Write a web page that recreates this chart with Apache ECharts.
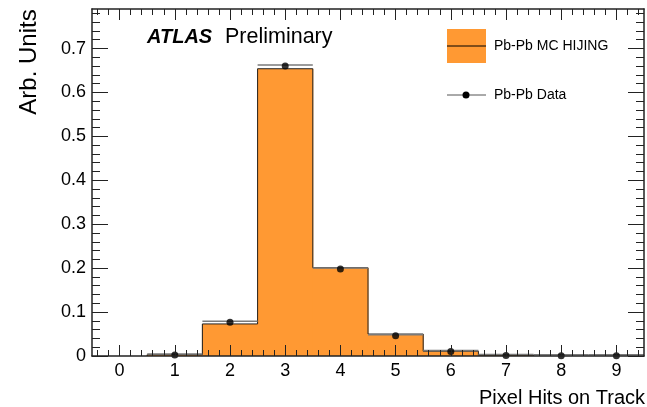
<!DOCTYPE html>
<html>
<head>
<meta charset="utf-8">
<script src="https://cdn.jsdelivr.net/npm/echarts@6/dist/echarts.min.js"></script>
<style>html,body{margin:0;padding:0;background:#fff;}#c{width:647px;height:407px;}</style>
</head>
<body>
<div id="c"></div>
<script>
// ---- data ----
var bins = [0, 1, 2, 3, 4, 5, 6, 7, 8, 9];
var mcValues = [0, 0.003, 0.073, 0.654, 0.201, 0.050, 0.011, 0.002, 0, 0];
var dataValues = [null, 0.002, 0.077, 0.660, 0.198, 0.046, 0.010, 0.001, 0.0003, 0.0003];
var xTickLabels = [0, 1, 2, 3, 4, 5, 6, 7, 8, 9];
var yTickLabels = [0, 0.1, 0.2, 0.3, 0.4, 0.5, 0.6, 0.7];
var xMinorStep = 0.2, yMinorStep = 0.02;
var xMin = -0.5, xMax = 9.5, yMin = 0, yMax = 0.79;

function minorTicks(lo, hi, step, majors) {
  var out = [];
  var start = Math.ceil(lo / step - 1e-9);
  for (var i = start; i * step <= hi + 1e-9; i++) {
    var v = +(i * step).toFixed(6);
    var isMajor = majors.some(function (m) { return Math.abs(m - v) < 1e-9; });
    if (!isMajor && v > lo + 1e-9 && v < hi - 1e-9) out.push(v);
  }
  return out;
}
var xMinor = minorTicks(xMin, xMax, xMinorStep, xTickLabels);
var yMinor = minorTicks(yMin, yMax, yMinorStep, yTickLabels);

var FONT = 'Liberation Sans, Arial, Helvetica, sans-serif';
var ORANGE = '#ff9933';
var FRAME = '#222';

function xAxisDef(pos, ticks, len, labels, line) {
  return {
    type: 'value', min: xMin, max: xMax, position: pos, z: 10,
    axisLine: { show: line, onZero: false, lineStyle: { color: FRAME, width: 1.5 } },
    axisTick: { show: true, inside: true, length: len, customValues: ticks, lineStyle: { color: FRAME, width: 1 } },
    axisLabel: labels ? { show: true, customValues: xTickLabels, margin: 6, color: '#000', fontSize: 18, fontFamily: FONT } : { show: false },
    splitLine: { show: false }
  };
}
function yAxisDef(pos, ticks, len, labels, line) {
  return {
    type: 'value', min: yMin, max: yMax, position: pos, z: 10,
    axisLine: { show: line, onZero: false, lineStyle: { color: FRAME, width: 1.5 } },
    axisTick: { show: true, inside: true, length: len, customValues: ticks, lineStyle: { color: FRAME, width: 1 } },
    axisLabel: labels ? { show: true, customValues: yTickLabels, margin: 6, color: '#000', fontSize: 18, fontFamily: FONT } : { show: false },
    splitLine: { show: false }
  };
}

var histData = bins.map(function (b, i) { return [b, mcValues[i], i]; });
var dataPts = [];
bins.forEach(function (b, i) { if (dataValues[i] !== null) dataPts.push([b, dataValues[i]]); });

var option = {
  animation: false,
  backgroundColor: '#fff',
  grid: { left: 92, right: 3, top: 9, bottom: 51, containLabel: false },
  xAxis: [
    xAxisDef('bottom', xTickLabels, 11, true, true),
    xAxisDef('bottom', xMinor, 6, false, false),
    xAxisDef('top', xTickLabels, 11, false, true),
    xAxisDef('top', xMinor, 6, false, false)
  ],
  yAxis: [
    yAxisDef('left', yTickLabels, 16, true, true),
    yAxisDef('left', yMinor, 8, false, false),
    yAxisDef('right', yTickLabels, 16, false, true),
    yAxisDef('right', yMinor, 8, false, false)
  ],
  series: [
    { // MC fill
      type: 'custom', xAxisIndex: 0, yAxisIndex: 0, z: 2,
      data: histData,
      renderItem: function (params, api) {
        var x = api.value(0), v = api.value(1);
        if (!v) return null;
        var p0 = api.coord([x - 0.5, 0]);
        var p1 = api.coord([x + 0.5, v]);
        return { type: 'rect', shape: { x: p0[0] - 0.5, y: p1[1], width: p1[0] - p0[0] + 1, height: p0[1] - p1[1] }, style: { fill: ORANGE } };
      }
    },
    { // MC outline (step)
      type: 'custom', xAxisIndex: 0, yAxisIndex: 0, z: 3,
      data: histData,
      renderItem: function (params, api) {
        var x = api.value(0), v = api.value(1), i = api.value(2);
        var prev = i > 0 ? mcValues[i - 1] : 0;
        var children = [];
        var a = api.coord([x - 0.5, v]), b = api.coord([x + 0.5, v]);
        if (v > 0) children.push({ type: 'line', shape: { x1: a[0], y1: a[1], x2: b[0], y2: b[1] }, style: { stroke: '#222', lineWidth: 1 } });
        if (prev !== v) {
          var c = api.coord([x - 0.5, prev]);
          children.push({ type: 'line', shape: { x1: a[0], y1: a[1], x2: c[0], y2: c[1] }, style: { stroke: '#222', lineWidth: 1 } });
        }
        if (i === mcValues.length - 1 && v > 0) {
          var d = api.coord([x + 0.5, 0]);
          children.push({ type: 'line', shape: { x1: b[0], y1: b[1], x2: d[0], y2: d[1] }, style: { stroke: '#222', lineWidth: 1 } });
        }
        return { type: 'group', children: children };
      }
    },
    { // data x-error bars
      type: 'custom', xAxisIndex: 0, yAxisIndex: 0, z: 4,
      data: dataPts,
      renderItem: function (params, api) {
        var x = api.value(0), v = api.value(1);
        var a = api.coord([x - 0.5, v]), b = api.coord([x + 0.5, v]);
        return { type: 'line', shape: { x1: a[0], y1: a[1] - 1, x2: b[0], y2: b[1] - 1 }, style: { stroke: '#7a7a7a', lineWidth: 1.5 } };
      }
    },
    { // data points
      type: 'scatter', xAxisIndex: 0, yAxisIndex: 0, z: 5,
      symbol: 'circle', symbolSize: 7,
      itemStyle: { color: '#000' },
      data: dataPts
    }
  ],
  graphic: [
    { type: 'text', x: 29, y: 62, rotation: Math.PI / 2,
      style: { text: 'Arb. Units', font: '24px ' + FONT, fill: '#000', textAlign: 'center', textVerticalAlign: 'middle' } },
    { type: 'text', x: 645, y: 398,
      style: { text: 'Pixel Hits on Track', font: '20px ' + FONT, fill: '#000', textAlign: 'right', textVerticalAlign: 'middle' } },
    { type: 'text', x: 147, y: 37,
      style: { text: 'ATLAS', font: 'italic bold 20px ' + FONT, fill: '#000', textAlign: 'left', textVerticalAlign: 'middle' } },
    { type: 'text', x: 225, y: 37,
      style: { text: 'Preliminary', font: '21.5px ' + FONT, fill: '#000', textAlign: 'left', textVerticalAlign: 'middle' } },
    { type: 'rect', shape: { x: 447, y: 29, width: 39, height: 34 }, style: { fill: ORANGE } },
    { type: 'line', shape: { x1: 447, y1: 46, x2: 486, y2: 46 }, style: { stroke: '#000', lineWidth: 1 } },
    { type: 'text', x: 494, y: 46,
      style: { text: 'Pb-Pb MC HIJING', font: '14px ' + FONT, fill: '#000', textAlign: 'left', textVerticalAlign: 'middle' } },
    { type: 'line', shape: { x1: 447, y1: 95, x2: 486, y2: 95 }, style: { stroke: '#555', lineWidth: 1 } },
    { type: 'circle', shape: { cx: 466, cy: 95, r: 3.5 }, style: { fill: '#000' } },
    { type: 'text', x: 494, y: 95,
      style: { text: 'Pb-Pb Data', font: '14px ' + FONT, fill: '#000', textAlign: 'left', textVerticalAlign: 'middle' } }
  ]
};
echarts.init(document.getElementById('c'), null, { renderer: 'canvas' }).setOption(option);
</script>
</body>
</html>
